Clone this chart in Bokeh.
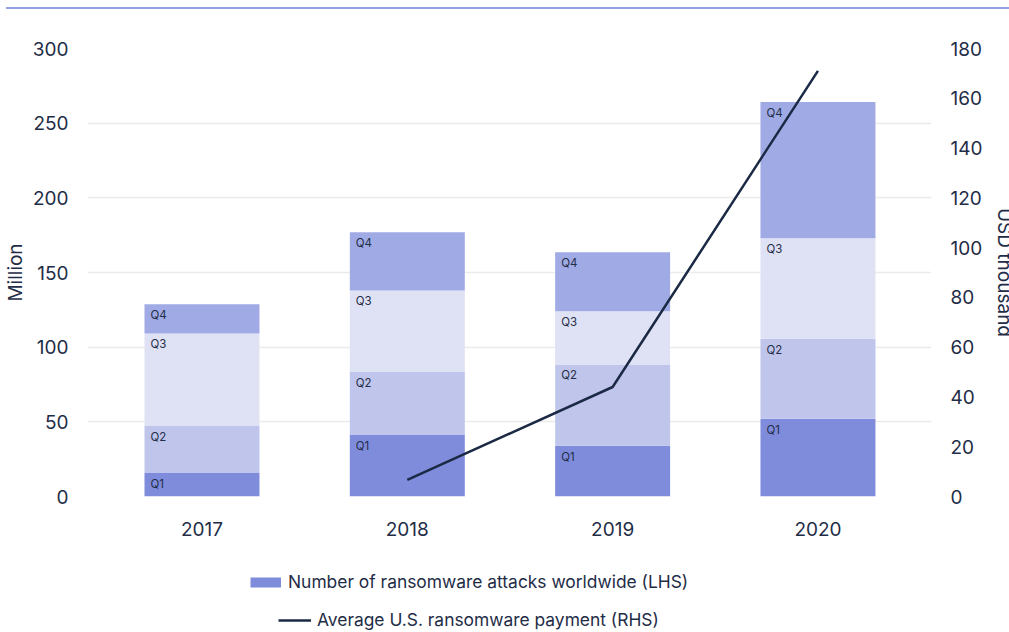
from bokeh.plotting import figure
from bokeh.layouts import column
from bokeh.models import (Range1d, LinearAxis, FixedTicker, Legend, LegendItem,
                          ColumnDataSource, Div)
from bokeh.core.properties import value
from bokeh.embed import file_html
from bokeh.resources import INLINE

# ---------------- data ----------------
years = ["2017", "2018", "2019", "2020"]
quarters = ["Q1", "Q2", "Q3", "Q4"]
q1 = [16.0, 41.5, 34.0, 52.0]
q2 = [31.5, 42.2, 54.4, 53.7]
q3 = [61.7, 54.3, 35.6, 67.2]
q4 = [19.5, 39.0, 39.5, 91.2]
payment_years = ["2018", "2019", "2020"]
payment = [6.7, 44.0, 171.0]
left_ticks = [0, 50, 100, 150, 200, 250, 300]
right_ticks = [0, 20, 40, 60, 80, 100, 120, 140, 160, 180]
bar_label = "Number of ransomware attacks worldwide (LHS)"
line_label = "Average U.S. ransomware payment (RHS)"

# ---------------- styles ----------------
colors = ["#7f8cdc", "#c0c5ec", "#dfe1f5", "#a0aae4"]
text_color = "#1f2d47"
line_color = "#1b2a44"
FONT = "Inter"

xs = list(range(len(years)))
BAR_W = 0.56

p = figure(frame_width=844, frame_height=448, output_backend="svg",
           toolbar_location=None,
           x_range=Range1d(-0.5576, 3.553), y_range=Range1d(0, 300),
           min_border_left=87, min_border_right=0, min_border_top=39,
           min_border_bottom=64)
p.outline_line_color = None
p.background_fill_color = "white"
p.border_fill_color = "white"
p.extra_y_ranges = {"usd": Range1d(0, 180)}

data = {"x": xs}
for q, vals in zip(quarters, [q1, q2, q3, q4]):
    data[q] = vals
src = ColumnDataSource(data)
bars = p.vbar_stack(quarters, x="x", width=BAR_W, color=colors, source=src,
                    line_width=0)

# quarter labels at top-left of each segment
lx, ly, lt = [], [], []
for i in xs:
    cum = 0.0
    for q, vals in zip(quarters, [q1, q2, q3, q4]):
        cum += vals[i]
        lx.append(i - BAR_W / 2)
        ly.append(cum)
        lt.append(q)
p.text(x=lx, y=ly, text=lt, x_offset=6, y_offset=4, text_baseline="top",
       text_align="left", text_font=value(FONT), text_font_size="11.5px",
       text_color=text_color)

# line on right axis
px = [years.index(y) for y in payment_years]
ln = p.line(px, payment, y_range_name="usd", line_color=line_color,
            line_width=2.5)

# axes
p.xaxis.ticker = FixedTicker(ticks=xs)
p.xaxis.major_label_overrides = {i: y for i, y in enumerate(years)}
p.yaxis.ticker = FixedTicker(ticks=left_ticks)
p.yaxis.axis_label = "Million"
raxis = LinearAxis(y_range_name="usd", ticker=FixedTicker(ticks=right_ticks),
                   axis_label="USD thousand")
p.add_layout(raxis, "right")

for ax in p.axis:
    ax.axis_line_color = None
    ax.major_tick_line_color = None
    ax.minor_tick_line_color = None
    ax.major_tick_out = 0
    ax.major_tick_in = 0
    ax.major_label_text_font = FONT
    ax.major_label_text_font_size = "19px"
    ax.major_label_text_color = text_color
    ax.axis_label_text_font = FONT
    ax.axis_label_text_font_size = "19px"
    ax.axis_label_text_font_style = "normal"
    ax.axis_label_text_color = text_color
p.xaxis.major_label_standoff = 25
p.yaxis[0].major_label_standoff = 19
p.yaxis[0].axis_label_standoff = 3
raxis.major_label_standoff = 19
raxis.axis_label_standoff = 8
if "axis_label_orientation" in raxis.properties():
    raxis.axis_label_orientation = "vertical"

p.xgrid.visible = False
p.ygrid.ticker = FixedTicker(ticks=left_ticks)
p.ygrid.grid_line_color = "#ebebeb"
p.ygrid.grid_line_width = 1.5

# ---------------- legend strip below the chart ----------------
lg = figure(width=1009, height=72, output_backend="svg", toolbar_location=None,
            x_axis_type=None, y_axis_type=None, min_border=0,
            x_range=Range1d(0, 1), y_range=Range1d(0, 1))
lg.outline_line_color = None
lg.background_fill_color = "white"
lg.border_fill_color = "white"
nan = float("nan")
swatch = lg.line([nan], [nan], line_color=colors[0], line_width=10)
pay_key = lg.line([nan], [nan], line_color=line_color, line_width=2.5)

common = dict(glyph_height=20, label_height=20, padding=0, margin=0,
              border_line_color=None, background_fill_alpha=0,
              label_text_font=FONT, label_text_font_size="17.4px",
              label_text_color=text_color)
leg1 = Legend(items=[LegendItem(label=bar_label, renderers=[swatch])],
              location=(163, 40), glyph_width=31, label_standoff=7, **common)
leg2 = Legend(items=[LegendItem(label=line_label, renderers=[pay_key])],
              location=(191, 2), glyph_width=33, label_standoff=6, **common)
lg.add_layout(leg1, "center")
lg.add_layout(leg2, "center")

# thin accent rule across the top of the page
rule = Div(text="", width=1003, height=2, margin=(7, 0, 0, 6),
           styles={"background-color": "#95a1e6"})

layout = column(rule, p, lg, spacing=0)
open("out.html", "w").write(file_html(layout, INLINE))
